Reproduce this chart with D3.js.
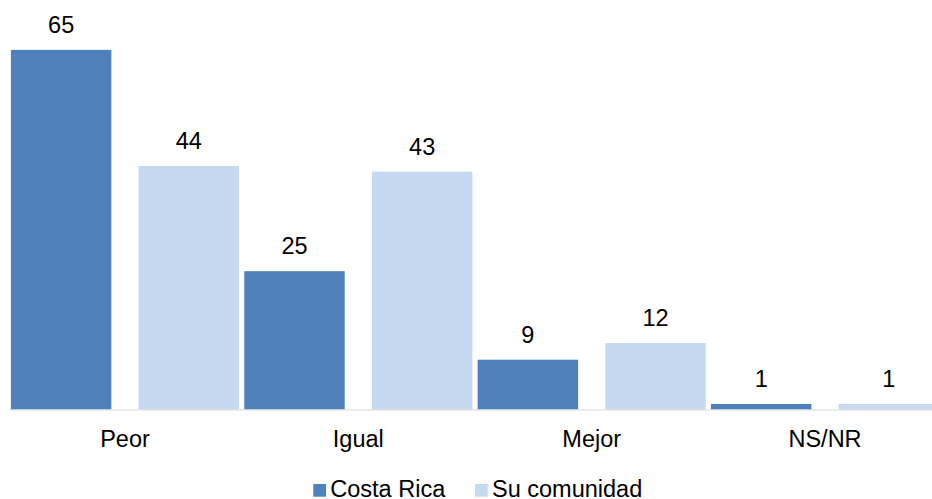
<!DOCTYPE html>
<html>
<head>
<meta charset="utf-8">
<script src="https://cdn.jsdelivr.net/npm/d3@7"></script>
<style>
  html, body { margin: 0; padding: 0; background: #fff; }
  svg { display: block; }
  text { font-family: "Liberation Sans", Arial, sans-serif; fill: #000; }
</style>
</head>
<body>
<svg id="chart" width="932" height="499"></svg>
<script>
// Percentages by answer category
const categories = ["Peor", "Igual", "Mejor", "NS/NR"];
const seriesNames = ["Costa Rica", "Su comunidad"];
const costaRica = [65, 25, 9, 1];
const suComunidad = [44, 43, 12, 1];
const colors = ["#4F81BD", "#C6D9F1"];

const values = [costaRica, suComunidad];
const rows = categories.map((c, i) => ({
  category: c,
  items: seriesNames.map((s, j) => ({ series: s, index: j, value: values[j][i] }))
}));

const svg = d3.select("#chart");
const fontSize = 23.5;

const baseline = 409.5;
const y = d3.scaleLinear().domain([0, 70]).range([baseline, 22.2]);

const x0 = d3.scaleBand()
  .domain(categories)
  .range([8.3, 941.7])
  .paddingInner(0)
  .paddingOuter(0);

// Two bars per group with a wide gap between them
const inner = d3.scaleBand()
  .domain(seriesNames)
  .range([2.6, x0.bandwidth() - 2.6])
  .paddingInner(0.213)
  .paddingOuter(0);

const groups = svg.append("g")
  .selectAll("g")
  .data(rows)
  .join("g")
  .attr("transform", d => `translate(${x0(d.category)},0)`);

groups.selectAll("rect")
  .data(d => d.items)
  .join("rect")
  .attr("x", d => inner(d.series))
  .attr("width", inner.bandwidth())
  .attr("y", d => y(d.value))
  .attr("height", d => baseline - y(d.value))
  .attr("fill", d => colors[d.index]);

groups.selectAll("text.value")
  .data(d => d.items)
  .join("text")
  .attr("class", "value")
  .attr("x", d => inner(d.series) + inner.bandwidth() / 2)
  .attr("y", d => y(d.value) - 17)
  .attr("text-anchor", "middle")
  .style("font-size", fontSize + "px")
  .text(d => d.value);

// Category axis
const xAxis = svg.append("g")
  .attr("transform", `translate(0,${baseline})`)
  .call(d3.axisBottom(x0).tickSize(0).tickPadding(0));
xAxis.select(".domain").attr("stroke", "#D9D9D9").attr("stroke-width", 1.2);
xAxis.selectAll(".tick text")
  .attr("y", 37.5)
  .attr("dy", null)
  .style("font-size", fontSize + "px")
  .style("font-family", '"Liberation Sans", Arial, sans-serif')
  .attr("fill", "#000");

// Legend
const legendPos = [313.3, 475];
const legend = svg.append("g")
  .selectAll("g")
  .data(seriesNames)
  .join("g")
  .attr("transform", (d, i) => `translate(${legendPos[i]},484)`);
legend.append("rect")
  .attr("width", 12.7)
  .attr("height", 12.7)
  .attr("fill", (d, i) => colors[i]);
legend.append("text")
  .attr("x", 17)
  .attr("y", 12.8)
  .style("font-size", fontSize + "px")
  .text(d => d);
</script>
</body>
</html>
